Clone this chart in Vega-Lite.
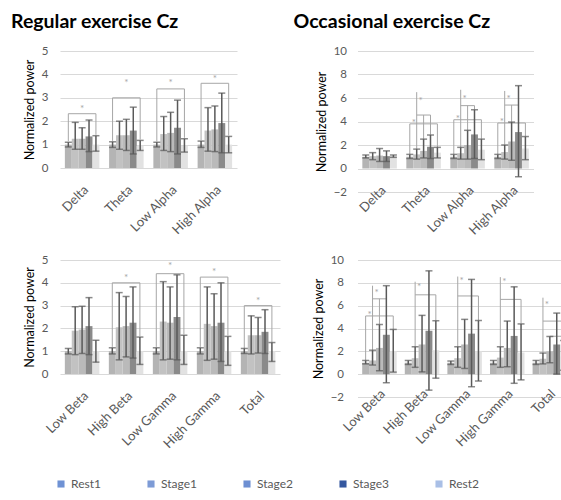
{
  "$schema": "https://vega.github.io/schema/vega-lite/v6.json",
  "padding": {"left": 11, "top": 11, "right": 0, "bottom": 0},
  "config": {
    "font": "Lato",
    "view": {"stroke": null},
    "axis": {"labelFont": "Lato", "titleFont": "Lato", "titleFontWeight": "normal", "labelColor": "#595959", "titleColor": "#000000", "ticks": false, "domain": false, "gridColor": "#d9d9d9", "labelFontSize": 11.5, "titleFontSize": 12.5},
    "axisX": {"labelFontSize": 13}
  },
  "datasets": {
    "bars": [
      {"panel": "RT", "freq": "Delta", "stage": "Rest1", "mean": 1.0, "lo": 0.9, "hi": 1.1},
      {"panel": "RT", "freq": "Delta", "stage": "Stage1", "mean": 1.25, "lo": 0.8, "hi": 1.95},
      {"panel": "RT", "freq": "Delta", "stage": "Stage2", "mean": 1.25, "lo": 0.8, "hi": 1.72},
      {"panel": "RT", "freq": "Delta", "stage": "Stage3", "mean": 1.35, "lo": 0.7, "hi": 2.05},
      {"panel": "RT", "freq": "Delta", "stage": "Rest2", "mean": 1.0, "lo": 0.72, "hi": 1.38},
      {"panel": "RT", "freq": "Theta", "stage": "Rest1", "mean": 1.0, "lo": 0.88, "hi": 1.12},
      {"panel": "RT", "freq": "Theta", "stage": "Stage1", "mean": 1.4, "lo": 0.8, "hi": 2.0},
      {"panel": "RT", "freq": "Theta", "stage": "Stage2", "mean": 1.4, "lo": 0.75, "hi": 2.08},
      {"panel": "RT", "freq": "Theta", "stage": "Stage3", "mean": 1.6, "lo": 0.6, "hi": 2.6},
      {"panel": "RT", "freq": "Theta", "stage": "Rest2", "mean": 0.95, "lo": 0.75, "hi": 1.18},
      {"panel": "RT", "freq": "Low Alpha", "stage": "Rest1", "mean": 1.0, "lo": 0.9, "hi": 1.1},
      {"panel": "RT", "freq": "Low Alpha", "stage": "Stage1", "mean": 1.45, "lo": 0.75, "hi": 2.2},
      {"panel": "RT", "freq": "Low Alpha", "stage": "Stage2", "mean": 1.5, "lo": 0.7, "hi": 2.38},
      {"panel": "RT", "freq": "Low Alpha", "stage": "Stage3", "mean": 1.72, "lo": 0.6, "hi": 2.9},
      {"panel": "RT", "freq": "Low Alpha", "stage": "Rest2", "mean": 0.95, "lo": 0.68, "hi": 1.25},
      {"panel": "RT", "freq": "High Alpha", "stage": "Rest1", "mean": 1.0, "lo": 0.88, "hi": 1.15},
      {"panel": "RT", "freq": "High Alpha", "stage": "Stage1", "mean": 1.6, "lo": 0.72, "hi": 2.58},
      {"panel": "RT", "freq": "High Alpha", "stage": "Stage2", "mean": 1.65, "lo": 0.7, "hi": 2.65},
      {"panel": "RT", "freq": "High Alpha", "stage": "Stage3", "mean": 1.92, "lo": 0.65, "hi": 3.2},
      {"panel": "RT", "freq": "High Alpha", "stage": "Rest2", "mean": 1.0, "lo": 0.65, "hi": 1.35},

      {"panel": "RB", "freq": "Low Beta", "stage": "Rest1", "mean": 1.0, "lo": 0.88, "hi": 1.12},
      {"panel": "RB", "freq": "Low Beta", "stage": "Stage1", "mean": 1.9, "lo": 0.85, "hi": 2.95},
      {"panel": "RB", "freq": "Low Beta", "stage": "Stage2", "mean": 1.95, "lo": 0.9, "hi": 2.97},
      {"panel": "RB", "freq": "Low Beta", "stage": "Stage3", "mean": 2.1, "lo": 0.85, "hi": 3.35},
      {"panel": "RB", "freq": "Low Beta", "stage": "Rest2", "mean": 1.0, "lo": 0.52, "hi": 1.48},
      {"panel": "RB", "freq": "High Beta", "stage": "Rest1", "mean": 1.0, "lo": 0.88, "hi": 1.15},
      {"panel": "RB", "freq": "High Beta", "stage": "Stage1", "mean": 2.05, "lo": 0.62, "hi": 3.57},
      {"panel": "RB", "freq": "High Beta", "stage": "Stage2", "mean": 2.1, "lo": 0.75, "hi": 3.4},
      {"panel": "RB", "freq": "High Beta", "stage": "Stage3", "mean": 2.25, "lo": 0.7, "hi": 3.82},
      {"panel": "RB", "freq": "High Beta", "stage": "Rest2", "mean": 1.0, "lo": 0.42, "hi": 1.62},
      {"panel": "RB", "freq": "Low Gamma", "stage": "Rest1", "mean": 1.0, "lo": 0.88, "hi": 1.15},
      {"panel": "RB", "freq": "Low Gamma", "stage": "Stage1", "mean": 2.3, "lo": 0.62, "hi": 4.05},
      {"panel": "RB", "freq": "Low Gamma", "stage": "Stage2", "mean": 2.25, "lo": 0.65, "hi": 3.82},
      {"panel": "RB", "freq": "Low Gamma", "stage": "Stage3", "mean": 2.5, "lo": 0.62, "hi": 4.35},
      {"panel": "RB", "freq": "Low Gamma", "stage": "Rest2", "mean": 1.0, "lo": 0.42, "hi": 1.7},
      {"panel": "RB", "freq": "High Gamma", "stage": "Rest1", "mean": 1.0, "lo": 0.88, "hi": 1.15},
      {"panel": "RB", "freq": "High Gamma", "stage": "Stage1", "mean": 2.2, "lo": 0.6, "hi": 3.82},
      {"panel": "RB", "freq": "High Gamma", "stage": "Stage2", "mean": 2.1, "lo": 0.65, "hi": 3.52},
      {"panel": "RB", "freq": "High Gamma", "stage": "Stage3", "mean": 2.25, "lo": 0.55, "hi": 4.0},
      {"panel": "RB", "freq": "High Gamma", "stage": "Rest2", "mean": 1.0, "lo": 0.38, "hi": 1.65},
      {"panel": "RB", "freq": "Total", "stage": "Rest1", "mean": 1.0, "lo": 0.9, "hi": 1.12},
      {"panel": "RB", "freq": "Total", "stage": "Stage1", "mean": 1.7, "lo": 0.88, "hi": 2.55},
      {"panel": "RB", "freq": "Total", "stage": "Stage2", "mean": 1.7, "lo": 0.92, "hi": 2.48},
      {"panel": "RB", "freq": "Total", "stage": "Stage3", "mean": 1.85, "lo": 0.9, "hi": 2.82},
      {"panel": "RB", "freq": "Total", "stage": "Rest2", "mean": 1.0, "lo": 0.55, "hi": 1.38},

      {"panel": "OT", "freq": "Delta", "stage": "Rest1", "mean": 1.0, "lo": 0.9, "hi": 1.15},
      {"panel": "OT", "freq": "Delta", "stage": "Stage1", "mean": 1.05, "lo": 0.75, "hi": 1.35},
      {"panel": "OT", "freq": "Delta", "stage": "Stage2", "mean": 1.1, "lo": 0.6, "hi": 1.7},
      {"panel": "OT", "freq": "Delta", "stage": "Stage3", "mean": 1.05, "lo": 0.6, "hi": 1.5},
      {"panel": "OT", "freq": "Delta", "stage": "Rest2", "mean": 1.05, "lo": 0.95, "hi": 1.15},
      {"panel": "OT", "freq": "Theta", "stage": "Rest1", "mean": 1.0, "lo": 0.85, "hi": 1.2},
      {"panel": "OT", "freq": "Theta", "stage": "Stage1", "mean": 1.2, "lo": 0.8, "hi": 1.65},
      {"panel": "OT", "freq": "Theta", "stage": "Stage2", "mean": 1.5, "lo": 0.9, "hi": 2.5},
      {"panel": "OT", "freq": "Theta", "stage": "Stage3", "mean": 1.85, "lo": 0.85, "hi": 2.85},
      {"panel": "OT", "freq": "Theta", "stage": "Rest2", "mean": 1.35, "lo": 0.9, "hi": 1.8},
      {"panel": "OT", "freq": "Low Alpha", "stage": "Rest1", "mean": 1.0, "lo": 0.85, "hi": 1.2},
      {"panel": "OT", "freq": "Low Alpha", "stage": "Stage1", "mean": 1.3, "lo": 0.8, "hi": 1.8},
      {"panel": "OT", "freq": "Low Alpha", "stage": "Stage2", "mean": 2.0, "lo": 0.8, "hi": 3.25},
      {"panel": "OT", "freq": "Low Alpha", "stage": "Stage3", "mean": 2.9, "lo": 0.85, "hi": 5.0},
      {"panel": "OT", "freq": "Low Alpha", "stage": "Rest2", "mean": 1.6, "lo": 0.75, "hi": 2.5},
      {"panel": "OT", "freq": "High Alpha", "stage": "Rest1", "mean": 1.0, "lo": 0.85, "hi": 1.2},
      {"panel": "OT", "freq": "High Alpha", "stage": "Stage1", "mean": 1.4, "lo": 0.8, "hi": 2.0},
      {"panel": "OT", "freq": "High Alpha", "stage": "Stage2", "mean": 2.3, "lo": 0.7, "hi": 3.95},
      {"panel": "OT", "freq": "High Alpha", "stage": "Stage3", "mean": 3.1, "lo": -0.7, "hi": 7.05},
      {"panel": "OT", "freq": "High Alpha", "stage": "Rest2", "mean": 1.7, "lo": 0.75, "hi": 2.72},

      {"panel": "OB", "freq": "Low Beta", "stage": "Rest1", "mean": 1.0, "lo": 0.9, "hi": 1.2},
      {"panel": "OB", "freq": "Low Beta", "stage": "Stage1", "mean": 1.2, "lo": 0.8, "hi": 2.1},
      {"panel": "OB", "freq": "Low Beta", "stage": "Stage2", "mean": 2.3, "lo": 0.3, "hi": 4.35},
      {"panel": "OB", "freq": "Low Beta", "stage": "Stage3", "mean": 3.45, "lo": -0.75, "hi": 7.75},
      {"panel": "OB", "freq": "Low Beta", "stage": "Rest2", "mean": 2.0, "lo": 0.18, "hi": 3.92},
      {"panel": "OB", "freq": "High Beta", "stage": "Rest1", "mean": 1.0, "lo": 0.85, "hi": 1.2},
      {"panel": "OB", "freq": "High Beta", "stage": "Stage1", "mean": 1.4, "lo": 0.6, "hi": 2.4},
      {"panel": "OB", "freq": "High Beta", "stage": "Stage2", "mean": 2.6, "lo": 0.2, "hi": 5.15},
      {"panel": "OB", "freq": "High Beta", "stage": "Stage3", "mean": 3.8, "lo": -1.4, "hi": 9.05},
      {"panel": "OB", "freq": "High Beta", "stage": "Rest2", "mean": 2.1, "lo": -0.35, "hi": 4.68},
      {"panel": "OB", "freq": "Low Gamma", "stage": "Rest1", "mean": 1.0, "lo": 0.85, "hi": 1.15},
      {"panel": "OB", "freq": "Low Gamma", "stage": "Stage1", "mean": 1.4, "lo": 0.6, "hi": 2.4},
      {"panel": "OB", "freq": "Low Gamma", "stage": "Stage2", "mean": 2.6, "lo": 0.5, "hi": 4.8},
      {"panel": "OB", "freq": "Low Gamma", "stage": "Stage3", "mean": 3.55, "lo": -1.1, "hi": 8.3},
      {"panel": "OB", "freq": "Low Gamma", "stage": "Rest2", "mean": 2.0, "lo": -0.6, "hi": 4.7},
      {"panel": "OB", "freq": "High Gamma", "stage": "Rest1", "mean": 1.0, "lo": 0.85, "hi": 1.2},
      {"panel": "OB", "freq": "High Gamma", "stage": "Stage1", "mean": 1.45, "lo": 0.6, "hi": 2.4},
      {"panel": "OB", "freq": "High Gamma", "stage": "Stage2", "mean": 2.3, "lo": 0.65, "hi": 4.65},
      {"panel": "OB", "freq": "High Gamma", "stage": "Stage3", "mean": 3.35, "lo": -0.8, "hi": 7.65},
      {"panel": "OB", "freq": "High Gamma", "stage": "Rest2", "mean": 1.9, "lo": -0.5, "hi": 4.4},
      {"panel": "OB", "freq": "Total", "stage": "Rest1", "mean": 1.0, "lo": 0.85, "hi": 1.2},
      {"panel": "OB", "freq": "Total", "stage": "Stage1", "mean": 1.35, "lo": 0.9, "hi": 1.85},
      {"panel": "OB", "freq": "Total", "stage": "Stage2", "mean": 2.0, "lo": 1.0, "hi": 3.3},
      {"panel": "OB", "freq": "Total", "stage": "Stage3", "mean": 2.6, "lo": 0.0, "hi": 5.35},
      {"panel": "OB", "freq": "Total", "stage": "Rest2", "mean": 1.55, "lo": 0.35, "hi": 2.95}
    ],
    "brackets": [
      {"panel": "RT", "freq": "Delta", "bid": "b1", "ord": 1, "stage": "Rest1", "v": 1.15},
      {"panel": "RT", "freq": "Delta", "bid": "b1", "ord": 2, "stage": "Rest1", "v": 2.32},
      {"panel": "RT", "freq": "Delta", "bid": "b1", "ord": 3, "stage": "Rest2", "v": 2.32},
      {"panel": "RT", "freq": "Delta", "bid": "b1", "ord": 4, "stage": "Rest2", "v": 1.42},
      {"panel": "RT", "freq": "Theta", "bid": "b1", "ord": 1, "stage": "Rest1", "v": 1.16},
      {"panel": "RT", "freq": "Theta", "bid": "b1", "ord": 2, "stage": "Rest1", "v": 3.0},
      {"panel": "RT", "freq": "Theta", "bid": "b1", "ord": 3, "stage": "Rest2", "v": 3.0},
      {"panel": "RT", "freq": "Theta", "bid": "b1", "ord": 4, "stage": "Rest2", "v": 1.22},
      {"panel": "RT", "freq": "Low Alpha", "bid": "b1", "ord": 1, "stage": "Rest1", "v": 1.14},
      {"panel": "RT", "freq": "Low Alpha", "bid": "b1", "ord": 2, "stage": "Rest1", "v": 3.38},
      {"panel": "RT", "freq": "Low Alpha", "bid": "b1", "ord": 3, "stage": "Rest2", "v": 3.38},
      {"panel": "RT", "freq": "Low Alpha", "bid": "b1", "ord": 4, "stage": "Rest2", "v": 1.29},
      {"panel": "RT", "freq": "High Alpha", "bid": "b1", "ord": 1, "stage": "Rest1", "v": 1.19},
      {"panel": "RT", "freq": "High Alpha", "bid": "b1", "ord": 2, "stage": "Rest1", "v": 3.62},
      {"panel": "RT", "freq": "High Alpha", "bid": "b1", "ord": 3, "stage": "Rest2", "v": 3.62},
      {"panel": "RT", "freq": "High Alpha", "bid": "b1", "ord": 4, "stage": "Rest2", "v": 1.39},

      {"panel": "RB", "freq": "High Beta", "bid": "b1", "ord": 1, "stage": "Rest1", "v": 1.19},
      {"panel": "RB", "freq": "High Beta", "bid": "b1", "ord": 2, "stage": "Rest1", "v": 4.0},
      {"panel": "RB", "freq": "High Beta", "bid": "b1", "ord": 3, "stage": "Rest2", "v": 4.0},
      {"panel": "RB", "freq": "High Beta", "bid": "b1", "ord": 4, "stage": "Rest2", "v": 1.66},
      {"panel": "RB", "freq": "Low Gamma", "bid": "b1", "ord": 1, "stage": "Rest1", "v": 1.19},
      {"panel": "RB", "freq": "Low Gamma", "bid": "b1", "ord": 2, "stage": "Rest1", "v": 4.4},
      {"panel": "RB", "freq": "Low Gamma", "bid": "b1", "ord": 3, "stage": "Rest2", "v": 4.4},
      {"panel": "RB", "freq": "Low Gamma", "bid": "b1", "ord": 4, "stage": "Rest2", "v": 1.74},
      {"panel": "RB", "freq": "High Gamma", "bid": "b1", "ord": 1, "stage": "Rest1", "v": 1.19},
      {"panel": "RB", "freq": "High Gamma", "bid": "b1", "ord": 2, "stage": "Rest1", "v": 4.25},
      {"panel": "RB", "freq": "High Gamma", "bid": "b1", "ord": 3, "stage": "Rest2", "v": 4.25},
      {"panel": "RB", "freq": "High Gamma", "bid": "b1", "ord": 4, "stage": "Rest2", "v": 1.69},
      {"panel": "RB", "freq": "Total", "bid": "b1", "ord": 1, "stage": "Rest1", "v": 1.14},
      {"panel": "RB", "freq": "Total", "bid": "b1", "ord": 2, "stage": "Rest1", "v": 3.0},
      {"panel": "RB", "freq": "Total", "bid": "b1", "ord": 3, "stage": "Rest2", "v": 3.0},
      {"panel": "RB", "freq": "Total", "bid": "b1", "ord": 4, "stage": "Rest2", "v": 1.4},

      {"panel": "OT", "freq": "Theta", "bid": "b1", "ord": 1, "stage": "Rest1", "v": 1.22},
      {"panel": "OT", "freq": "Theta", "bid": "b1", "ord": 2, "stage": "Rest1", "v": 3.8},
      {"panel": "OT", "freq": "Theta", "bid": "b1", "ord": 3, "stage": "Rest2", "v": 3.8},
      {"panel": "OT", "freq": "Theta", "bid": "b1", "ord": 4, "stage": "Rest2", "v": 1.82},
      {"panel": "OT", "freq": "Theta", "bid": "b2", "ord": 1, "stage": "Stage1", "v": 1.67},
      {"panel": "OT", "freq": "Theta", "bid": "b2", "ord": 2, "stage": "Stage1", "v": 6.5},
      {"panel": "OT", "freq": "Theta", "bid": "b3", "ord": 1, "stage": "Stage1", "v": 4.55},
      {"panel": "OT", "freq": "Theta", "bid": "b3", "ord": 2, "stage": "Stage3", "v": 4.55},
      {"panel": "OT", "freq": "Theta", "bid": "b3", "ord": 3, "stage": "Stage3", "v": 2.87},
      {"panel": "OT", "freq": "Theta", "bid": "b4", "ord": 1, "stage": "Stage2", "v": 4.55},
      {"panel": "OT", "freq": "Theta", "bid": "b4", "ord": 2, "stage": "Stage2", "v": 2.52},
      {"panel": "OT", "freq": "Low Alpha", "bid": "b1", "ord": 1, "stage": "Rest1", "v": 1.22},
      {"panel": "OT", "freq": "Low Alpha", "bid": "b1", "ord": 2, "stage": "Rest1", "v": 4.15},
      {"panel": "OT", "freq": "Low Alpha", "bid": "b1", "ord": 3, "stage": "Rest2", "v": 4.15},
      {"panel": "OT", "freq": "Low Alpha", "bid": "b1", "ord": 4, "stage": "Rest2", "v": 2.52},
      {"panel": "OT", "freq": "Low Alpha", "bid": "b2", "ord": 1, "stage": "Stage1", "v": 1.82},
      {"panel": "OT", "freq": "Low Alpha", "bid": "b2", "ord": 2, "stage": "Stage1", "v": 6.7},
      {"panel": "OT", "freq": "Low Alpha", "bid": "b3", "ord": 1, "stage": "Stage1", "v": 5.35},
      {"panel": "OT", "freq": "Low Alpha", "bid": "b3", "ord": 2, "stage": "Stage3", "v": 5.35},
      {"panel": "OT", "freq": "Low Alpha", "bid": "b3", "ord": 3, "stage": "Stage3", "v": 5.02},
      {"panel": "OT", "freq": "Low Alpha", "bid": "b4", "ord": 1, "stage": "Stage2", "v": 5.35},
      {"panel": "OT", "freq": "Low Alpha", "bid": "b4", "ord": 2, "stage": "Stage2", "v": 3.27},
      {"panel": "OT", "freq": "High Alpha", "bid": "b1", "ord": 1, "stage": "Rest1", "v": 1.22},
      {"panel": "OT", "freq": "High Alpha", "bid": "b1", "ord": 2, "stage": "Rest1", "v": 3.87},
      {"panel": "OT", "freq": "High Alpha", "bid": "b1", "ord": 3, "stage": "Rest2", "v": 3.87},
      {"panel": "OT", "freq": "High Alpha", "bid": "b1", "ord": 4, "stage": "Rest2", "v": 2.74},
      {"panel": "OT", "freq": "High Alpha", "bid": "b2", "ord": 1, "stage": "Stage1", "v": 2.02},
      {"panel": "OT", "freq": "High Alpha", "bid": "b2", "ord": 2, "stage": "Stage1", "v": 6.6},
      {"panel": "OT", "freq": "High Alpha", "bid": "b3", "ord": 1, "stage": "Stage1", "v": 5.4},
      {"panel": "OT", "freq": "High Alpha", "bid": "b3", "ord": 2, "stage": "Stage3", "v": 5.4},
      {"panel": "OT", "freq": "High Alpha", "bid": "b4", "ord": 1, "stage": "Stage2", "v": 5.4},
      {"panel": "OT", "freq": "High Alpha", "bid": "b4", "ord": 2, "stage": "Stage2", "v": 3.97},

      {"panel": "OB", "freq": "Low Beta", "bid": "b1", "ord": 1, "stage": "Rest1", "v": 1.22},
      {"panel": "OB", "freq": "Low Beta", "bid": "b1", "ord": 2, "stage": "Rest1", "v": 5.1},
      {"panel": "OB", "freq": "Low Beta", "bid": "b1", "ord": 3, "stage": "Rest2", "v": 5.1},
      {"panel": "OB", "freq": "Low Beta", "bid": "b1", "ord": 4, "stage": "Rest2", "v": 3.94},
      {"panel": "OB", "freq": "Low Beta", "bid": "b2", "ord": 1, "stage": "Stage1", "v": 2.12},
      {"panel": "OB", "freq": "Low Beta", "bid": "b2", "ord": 2, "stage": "Stage1", "v": 7.75},
      {"panel": "OB", "freq": "Low Beta", "bid": "b3", "ord": 1, "stage": "Stage1", "v": 6.6},
      {"panel": "OB", "freq": "Low Beta", "bid": "b3", "ord": 2, "stage": "Stage3", "v": 6.6},
      {"panel": "OB", "freq": "Low Beta", "bid": "b4", "ord": 1, "stage": "Stage2", "v": 6.6},
      {"panel": "OB", "freq": "Low Beta", "bid": "b4", "ord": 2, "stage": "Stage2", "v": 4.37},
      {"panel": "OB", "freq": "High Beta", "bid": "b2", "ord": 1, "stage": "Stage1", "v": 2.42},
      {"panel": "OB", "freq": "High Beta", "bid": "b2", "ord": 2, "stage": "Stage1", "v": 8.1},
      {"panel": "OB", "freq": "High Beta", "bid": "b3", "ord": 1, "stage": "Stage1", "v": 6.95},
      {"panel": "OB", "freq": "High Beta", "bid": "b3", "ord": 2, "stage": "Rest2", "v": 6.95},
      {"panel": "OB", "freq": "High Beta", "bid": "b3", "ord": 3, "stage": "Rest2", "v": 4.7},
      {"panel": "OB", "freq": "Low Gamma", "bid": "b2", "ord": 1, "stage": "Stage1", "v": 2.42},
      {"panel": "OB", "freq": "Low Gamma", "bid": "b2", "ord": 2, "stage": "Stage1", "v": 8.55},
      {"panel": "OB", "freq": "Low Gamma", "bid": "b3", "ord": 1, "stage": "Stage1", "v": 6.85},
      {"panel": "OB", "freq": "Low Gamma", "bid": "b3", "ord": 2, "stage": "Rest2", "v": 6.85},
      {"panel": "OB", "freq": "Low Gamma", "bid": "b3", "ord": 3, "stage": "Rest2", "v": 4.72},
      {"panel": "OB", "freq": "High Gamma", "bid": "b2", "ord": 1, "stage": "Stage1", "v": 2.42},
      {"panel": "OB", "freq": "High Gamma", "bid": "b2", "ord": 2, "stage": "Stage1", "v": 8.5},
      {"panel": "OB", "freq": "High Gamma", "bid": "b3", "ord": 1, "stage": "Stage1", "v": 6.55},
      {"panel": "OB", "freq": "High Gamma", "bid": "b3", "ord": 2, "stage": "Rest2", "v": 6.55},
      {"panel": "OB", "freq": "High Gamma", "bid": "b3", "ord": 3, "stage": "Rest2", "v": 4.42},
      {"panel": "OB", "freq": "Total", "bid": "b2", "ord": 1, "stage": "Stage1", "v": 1.87},
      {"panel": "OB", "freq": "Total", "bid": "b2", "ord": 2, "stage": "Stage1", "v": 6.7},
      {"panel": "OB", "freq": "Total", "bid": "b3", "ord": 1, "stage": "Stage1", "v": 4.65},
      {"panel": "OB", "freq": "Total", "bid": "b3", "ord": 2, "stage": "Rest2", "v": 4.65},
      {"panel": "OB", "freq": "Total", "bid": "b3", "ord": 3, "stage": "Rest2", "v": 2.97},
      {"panel": "OB", "freq": "Total", "bid": "b4", "ord": 1, "stage": "Stage2", "v": 3.32},
      {"panel": "OB", "freq": "Total", "bid": "b4", "ord": 2, "stage": "Rest2", "v": 3.32}
    ],
    "stars": [
      {"panel": "RT", "freq": "Delta", "stage": "Stage2", "v": 2.65},
      {"panel": "RT", "freq": "Theta", "stage": "Stage2", "v": 3.75},
      {"panel": "RT", "freq": "Low Alpha", "stage": "Stage2", "v": 3.75},
      {"panel": "RT", "freq": "High Alpha", "stage": "Stage2", "v": 3.95},
      {"panel": "RB", "freq": "High Beta", "stage": "Stage2", "v": 4.35},
      {"panel": "RB", "freq": "Low Gamma", "stage": "Stage2", "v": 4.85},
      {"panel": "RB", "freq": "High Gamma", "stage": "Stage2", "v": 4.6},
      {"panel": "RB", "freq": "Total", "stage": "Stage2", "v": 3.35},
      {"panel": "OT", "freq": "Theta", "stage": "Rest1", "v": 4.15},
      {"panel": "OT", "freq": "Theta", "stage": "Stage1", "v": 6.0},
      {"panel": "OT", "freq": "Low Alpha", "stage": "Rest1", "v": 4.5},
      {"panel": "OT", "freq": "Low Alpha", "stage": "Stage1", "v": 6.2},
      {"panel": "OT", "freq": "High Alpha", "stage": "Rest1", "v": 4.2},
      {"panel": "OT", "freq": "High Alpha", "stage": "Stage1", "v": 6.2},
      {"panel": "OB", "freq": "Low Beta", "stage": "Rest1", "v": 5.45},
      {"panel": "OB", "freq": "Low Beta", "stage": "Stage1", "v": 7.4},
      {"panel": "OB", "freq": "High Beta", "stage": "Stage1", "v": 7.9},
      {"panel": "OB", "freq": "Low Gamma", "stage": "Stage1", "v": 8.4},
      {"panel": "OB", "freq": "High Gamma", "stage": "Stage1", "v": 8.3},
      {"panel": "OB", "freq": "Total", "stage": "Stage1", "v": 6.35}
    ]
  },
  "columns": 2,
  "bounds": "flush",
  "spacing": {"row": 68, "column": 77.5},
  "resolve": {"scale": {"color": "independent"}, "legend": {"color": "independent"}},
  "concat": [
    {
      "width": 177, "height": 117,
      "title": {"text": "Regular exercise Cz", "anchor": "start", "frame": "group", "dx": -49, "offset": 13, "fontSize": 19.5, "fontWeight": "bold", "color": "#000000", "font": "Lato"},
      "encoding": {
        "x": {"field": "freq", "type": "nominal", "scale": {"domain": ["Delta", "Theta", "Low Alpha", "High Alpha"], "paddingInner": 0.22, "paddingOuter": 0.11}, "axis": {"title": null, "labelAngle": -45, "labelPadding": 15, "grid": false}},
        "xOffset": {"field": "stage", "type": "nominal", "scale": {"domain": ["Rest1", "Stage1", "Stage2", "Stage3", "Rest2"]}}
      },
      "layer": [
        {"data": {"name": "bars"}, "transform": [{"filter": "datum.panel == 'RT'"}],
         "mark": {"type": "bar"},
         "encoding": {"y": {"field": "mean", "type": "quantitative", "scale": {"domain": [0, 5], "nice": false}, "axis": {"values": [0, 1, 2, 3, 4, 5], "title": "Normalized power", "titlePadding": 4.5, "labelPadding": 12, "grid": true}},
           "fill": {"field": "stage", "type": "nominal", "scale": {"domain": ["Rest1", "Stage1", "Stage2", "Stage3", "Rest2"], "range": ["#b4b4b4", "#c2c2c2", "#bababa", "#8a8a8a", "#e2e2e2"]}, "legend": null}}},
        {"data": {"name": "brackets"}, "transform": [{"filter": "datum.panel == 'RT'"}],
         "mark": {"type": "line", "color": "#a6a6a6", "strokeWidth": 1},
         "encoding": {"y": {"field": "v", "type": "quantitative", "scale": {"domain": [0, 5], "nice": false}, "axis": {"values": [0, 1, 2, 3, 4, 5], "title": "Normalized power", "titlePadding": 4.5, "labelPadding": 12, "grid": true}}, "order": {"field": "ord"}, "detail": [{"field": "freq"}, {"field": "bid"}]}},
        {"data": {"name": "bars"}, "transform": [{"filter": "datum.panel == 'RT'"}],
         "mark": {"type": "rule", "color": "#595959", "strokeWidth": 1.5},
         "encoding": {"y": {"field": "lo", "type": "quantitative", "scale": {"domain": [0, 5], "nice": false}, "axis": {"values": [0, 1, 2, 3, 4, 5], "title": "Normalized power", "titlePadding": 4.5, "labelPadding": 12, "grid": true}}, "y2": {"field": "hi"}}},
        {"data": {"name": "bars"}, "transform": [{"filter": "datum.panel == 'RT'"}],
         "mark": {"type": "tick", "color": "#595959", "thickness": 1.5, "size": 7},
         "encoding": {"y": {"field": "hi", "type": "quantitative", "scale": {"domain": [0, 5], "nice": false}, "axis": {"values": [0, 1, 2, 3, 4, 5], "title": "Normalized power", "titlePadding": 4.5, "labelPadding": 12, "grid": true}}}},
        {"data": {"name": "bars"}, "transform": [{"filter": "datum.panel == 'RT'"}],
         "mark": {"type": "tick", "color": "#595959", "thickness": 1.5, "size": 7},
         "encoding": {"y": {"field": "lo", "type": "quantitative", "scale": {"domain": [0, 5], "nice": false}, "axis": {"values": [0, 1, 2, 3, 4, 5], "title": "Normalized power", "titlePadding": 4.5, "labelPadding": 12, "grid": true}}}},
        {"data": {"name": "stars"}, "transform": [{"filter": "datum.panel == 'RT'"}],
         "mark": {"type": "text", "text": "*", "color": "#a6a6a6", "fontSize": 10, "dy": 3},
         "encoding": {"y": {"field": "v", "type": "quantitative", "scale": {"domain": [0, 5], "nice": false}, "axis": {"values": [0, 1, 2, 3, 4, 5], "title": "Normalized power", "titlePadding": 4.5, "labelPadding": 12, "grid": true}}}}
      ]
    },
    {
      "width": 176, "height": 141,
      "title": {"text": "Occasional exercise Cz", "anchor": "start", "frame": "group", "dx": -64, "offset": 13, "fontSize": 19.5, "fontWeight": "bold", "color": "#000000", "font": "Lato"},
      "encoding": {
        "x": {"field": "freq", "type": "nominal", "scale": {"domain": ["Delta", "Theta", "Low Alpha", "High Alpha"], "paddingInner": 0.22, "paddingOuter": 0.11}, "axis": {"title": null, "labelAngle": -45, "labelPadding": 15, "offset": -23.5, "grid": false}},
        "xOffset": {"field": "stage", "type": "nominal", "scale": {"domain": ["Rest1", "Stage1", "Stage2", "Stage3", "Rest2"]}}
      },
      "layer": [
        {"data": {"name": "bars"}, "transform": [{"filter": "datum.panel == 'OT'"}],
         "mark": {"type": "bar"},
         "encoding": {"y": {"field": "mean", "type": "quantitative", "scale": {"domain": [-2, 10], "nice": false}, "axis": {"values": [-2, 0, 2, 4, 6, 8, 10], "title": "Normalized power", "titlePadding": 5, "labelPadding": 11, "grid": true}},
           "fill": {"field": "stage", "type": "nominal", "scale": {"domain": ["Rest1", "Stage1", "Stage2", "Stage3", "Rest2"], "range": ["#b4b4b4", "#c2c2c2", "#bababa", "#8a8a8a", "#e2e2e2"]}, "legend": null}}},
        {"data": {"name": "brackets"}, "transform": [{"filter": "datum.panel == 'OT'"}],
         "mark": {"type": "line", "color": "#a6a6a6", "strokeWidth": 1},
         "encoding": {"y": {"field": "v", "type": "quantitative", "scale": {"domain": [-2, 10], "nice": false}, "axis": {"values": [-2, 0, 2, 4, 6, 8, 10], "title": "Normalized power", "titlePadding": 5, "labelPadding": 11, "grid": true}}, "order": {"field": "ord"}, "detail": [{"field": "freq"}, {"field": "bid"}]}},
        {"data": {"name": "bars"}, "transform": [{"filter": "datum.panel == 'OT'"}],
         "mark": {"type": "rule", "color": "#595959", "strokeWidth": 1.5},
         "encoding": {"y": {"field": "lo", "type": "quantitative", "scale": {"domain": [-2, 10], "nice": false}, "axis": {"values": [-2, 0, 2, 4, 6, 8, 10], "title": "Normalized power", "titlePadding": 5, "labelPadding": 11, "grid": true}}, "y2": {"field": "hi"}}},
        {"data": {"name": "bars"}, "transform": [{"filter": "datum.panel == 'OT'"}],
         "mark": {"type": "tick", "color": "#595959", "thickness": 1.5, "size": 7},
         "encoding": {"y": {"field": "hi", "type": "quantitative", "scale": {"domain": [-2, 10], "nice": false}, "axis": {"values": [-2, 0, 2, 4, 6, 8, 10], "title": "Normalized power", "titlePadding": 5, "labelPadding": 11, "grid": true}}}},
        {"data": {"name": "bars"}, "transform": [{"filter": "datum.panel == 'OT'"}],
         "mark": {"type": "tick", "color": "#595959", "thickness": 1.5, "size": 7},
         "encoding": {"y": {"field": "lo", "type": "quantitative", "scale": {"domain": [-2, 10], "nice": false}, "axis": {"values": [-2, 0, 2, 4, 6, 8, 10], "title": "Normalized power", "titlePadding": 5, "labelPadding": 11, "grid": true}}}},
        {"data": {"name": "stars"}, "transform": [{"filter": "datum.panel == 'OT'"}],
         "mark": {"type": "text", "text": "*", "color": "#a6a6a6", "fontSize": 10, "dy": 3, "dx": 4},
         "encoding": {"y": {"field": "v", "type": "quantitative", "scale": {"domain": [-2, 10], "nice": false}, "axis": {"values": [-2, 0, 2, 4, 6, 8, 10], "title": "Normalized power", "titlePadding": 5, "labelPadding": 11, "grid": true}}}}
      ]
    },
    {
      "width": 220, "height": 114,
      "encoding": {
        "x": {"field": "freq", "type": "nominal", "scale": {"domain": ["Low Beta", "High Beta", "Low Gamma", "High Gamma", "Total"], "paddingInner": 0.22, "paddingOuter": 0.11}, "axis": {"title": null, "labelAngle": -45, "labelPadding": 15, "grid": false}},
        "xOffset": {"field": "stage", "type": "nominal", "scale": {"domain": ["Rest1", "Stage1", "Stage2", "Stage3", "Rest2"]}}
      },
      "layer": [
        {"data": {"name": "bars"}, "transform": [{"filter": "datum.panel == 'RB'"}],
         "mark": {"type": "bar"},
         "encoding": {"y": {"field": "mean", "type": "quantitative", "scale": {"domain": [0, 5], "nice": false}, "axis": {"values": [0, 1, 2, 3, 4, 5], "title": "Normalized power", "titlePadding": 4.5, "labelPadding": 12, "grid": true}},
           "fill": {"field": "stage", "type": "nominal", "scale": {"domain": ["Rest1", "Stage1", "Stage2", "Stage3", "Rest2"], "range": ["#b4b4b4", "#c2c2c2", "#bababa", "#8a8a8a", "#e2e2e2"]}, "legend": null}}},
        {"data": {"name": "brackets"}, "transform": [{"filter": "datum.panel == 'RB'"}],
         "mark": {"type": "line", "color": "#a6a6a6", "strokeWidth": 1},
         "encoding": {"y": {"field": "v", "type": "quantitative", "scale": {"domain": [0, 5], "nice": false}, "axis": {"values": [0, 1, 2, 3, 4, 5], "title": "Normalized power", "titlePadding": 4.5, "labelPadding": 12, "grid": true}}, "order": {"field": "ord"}, "detail": [{"field": "freq"}, {"field": "bid"}]}},
        {"data": {"name": "bars"}, "transform": [{"filter": "datum.panel == 'RB'"}],
         "mark": {"type": "rule", "color": "#595959", "strokeWidth": 1.5},
         "encoding": {"y": {"field": "lo", "type": "quantitative", "scale": {"domain": [0, 5], "nice": false}, "axis": {"values": [0, 1, 2, 3, 4, 5], "title": "Normalized power", "titlePadding": 4.5, "labelPadding": 12, "grid": true}}, "y2": {"field": "hi"}}},
        {"data": {"name": "bars"}, "transform": [{"filter": "datum.panel == 'RB'"}],
         "mark": {"type": "tick", "color": "#595959", "thickness": 1.5, "size": 7},
         "encoding": {"y": {"field": "hi", "type": "quantitative", "scale": {"domain": [0, 5], "nice": false}, "axis": {"values": [0, 1, 2, 3, 4, 5], "title": "Normalized power", "titlePadding": 4.5, "labelPadding": 12, "grid": true}}}},
        {"data": {"name": "bars"}, "transform": [{"filter": "datum.panel == 'RB'"}],
         "mark": {"type": "tick", "color": "#595959", "thickness": 1.5, "size": 7},
         "encoding": {"y": {"field": "lo", "type": "quantitative", "scale": {"domain": [0, 5], "nice": false}, "axis": {"values": [0, 1, 2, 3, 4, 5], "title": "Normalized power", "titlePadding": 4.5, "labelPadding": 12, "grid": true}}}},
        {"data": {"name": "stars"}, "transform": [{"filter": "datum.panel == 'RB'"}],
         "mark": {"type": "text", "text": "*", "color": "#a6a6a6", "fontSize": 10, "dy": 3},
         "encoding": {"y": {"field": "v", "type": "quantitative", "scale": {"domain": [0, 5], "nice": false}, "axis": {"values": [0, 1, 2, 3, 4, 5], "title": "Normalized power", "titlePadding": 4.5, "labelPadding": 12, "grid": true}}}}
      ]
    },
    {
      "width": 213, "height": 137,
      "encoding": {
        "x": {"field": "freq", "type": "nominal", "scale": {"domain": ["Low Beta", "High Beta", "Low Gamma", "High Gamma", "Total"], "paddingInner": 0.22, "paddingOuter": 0.11}, "axis": {"title": null, "labelAngle": -45, "labelPadding": 13, "offset": -22.8, "grid": false}},
        "xOffset": {"field": "stage", "type": "nominal", "scale": {"domain": ["Rest1", "Stage1", "Stage2", "Stage3", "Rest2"]}}
      },
      "layer": [
        {"data": {"name": "bars"}, "transform": [{"filter": "datum.panel == 'OB'"}],
         "mark": {"type": "bar"},
         "encoding": {"y": {"field": "mean", "type": "quantitative", "scale": {"domain": [-2, 10], "nice": false}, "axis": {"values": [-2, 0, 2, 4, 6, 8, 10], "title": "Normalized power", "titlePadding": 5, "labelPadding": 14, "grid": true}},
           "fill": {"field": "stage", "type": "nominal", "scale": {"domain": ["Rest1", "Stage1", "Stage2", "Stage3", "Rest2"], "range": ["#b4b4b4", "#c2c2c2", "#bababa", "#8a8a8a", "#e2e2e2"]}, "legend": null}}},
        {"data": {"name": "brackets"}, "transform": [{"filter": "datum.panel == 'OB'"}],
         "mark": {"type": "line", "color": "#a6a6a6", "strokeWidth": 1},
         "encoding": {"y": {"field": "v", "type": "quantitative", "scale": {"domain": [-2, 10], "nice": false}, "axis": {"values": [-2, 0, 2, 4, 6, 8, 10], "title": "Normalized power", "titlePadding": 5, "labelPadding": 14, "grid": true}}, "order": {"field": "ord"}, "detail": [{"field": "freq"}, {"field": "bid"}]}},
        {"data": {"name": "bars"}, "transform": [{"filter": "datum.panel == 'OB'"}],
         "mark": {"type": "rule", "color": "#595959", "strokeWidth": 1.5},
         "encoding": {"y": {"field": "lo", "type": "quantitative", "scale": {"domain": [-2, 10], "nice": false}, "axis": {"values": [-2, 0, 2, 4, 6, 8, 10], "title": "Normalized power", "titlePadding": 5, "labelPadding": 14, "grid": true}}, "y2": {"field": "hi"}}},
        {"data": {"name": "bars"}, "transform": [{"filter": "datum.panel == 'OB'"}],
         "mark": {"type": "tick", "color": "#595959", "thickness": 1.5, "size": 7},
         "encoding": {"y": {"field": "hi", "type": "quantitative", "scale": {"domain": [-2, 10], "nice": false}, "axis": {"values": [-2, 0, 2, 4, 6, 8, 10], "title": "Normalized power", "titlePadding": 5, "labelPadding": 14, "grid": true}}}},
        {"data": {"name": "bars"}, "transform": [{"filter": "datum.panel == 'OB'"}],
         "mark": {"type": "tick", "color": "#595959", "thickness": 1.5, "size": 7},
         "encoding": {"y": {"field": "lo", "type": "quantitative", "scale": {"domain": [-2, 10], "nice": false}, "axis": {"values": [-2, 0, 2, 4, 6, 8, 10], "title": "Normalized power", "titlePadding": 5, "labelPadding": 14, "grid": true}}}},
        {"data": {"name": "stars"}, "transform": [{"filter": "datum.panel == 'OB'"}],
         "mark": {"type": "text", "text": "*", "color": "#a6a6a6", "fontSize": 10, "dy": 3, "dx": 4},
         "encoding": {"y": {"field": "v", "type": "quantitative", "scale": {"domain": [-2, 10], "nice": false}, "axis": {"values": [-2, 0, 2, 4, 6, 8, 10], "title": "Normalized power", "titlePadding": 5, "labelPadding": 14, "grid": true}}}}
      ]
    },
    {
      "width": 220, "height": 20,
      "data": {"name": "bars"},
      "transform": [{"filter": "datum.panel == 'RT' && datum.freq == 'Delta'"}],
      "mark": {"type": "square", "opacity": 0},
      "encoding": {
        "color": {"field": "stage", "type": "nominal",
          "scale": {"domain": ["Rest1", "Stage1", "Stage2", "Stage3", "Rest2"], "range": ["#6f92d4", "#7d9bd6", "#6d8fd2", "#34579f", "#a9bfe6"]},
          "legend": {"orient": "none", "legendX": -5, "legendY": 13, "direction": "horizontal", "columns": 5, "title": null, "symbolType": "square", "symbolSize": 50, "symbolOpacity": 1, "labelFontSize": 12, "labelColor": "#595959", "labelFont": "Lato", "columnPadding": 44}}
      }
    }
  ]
}
